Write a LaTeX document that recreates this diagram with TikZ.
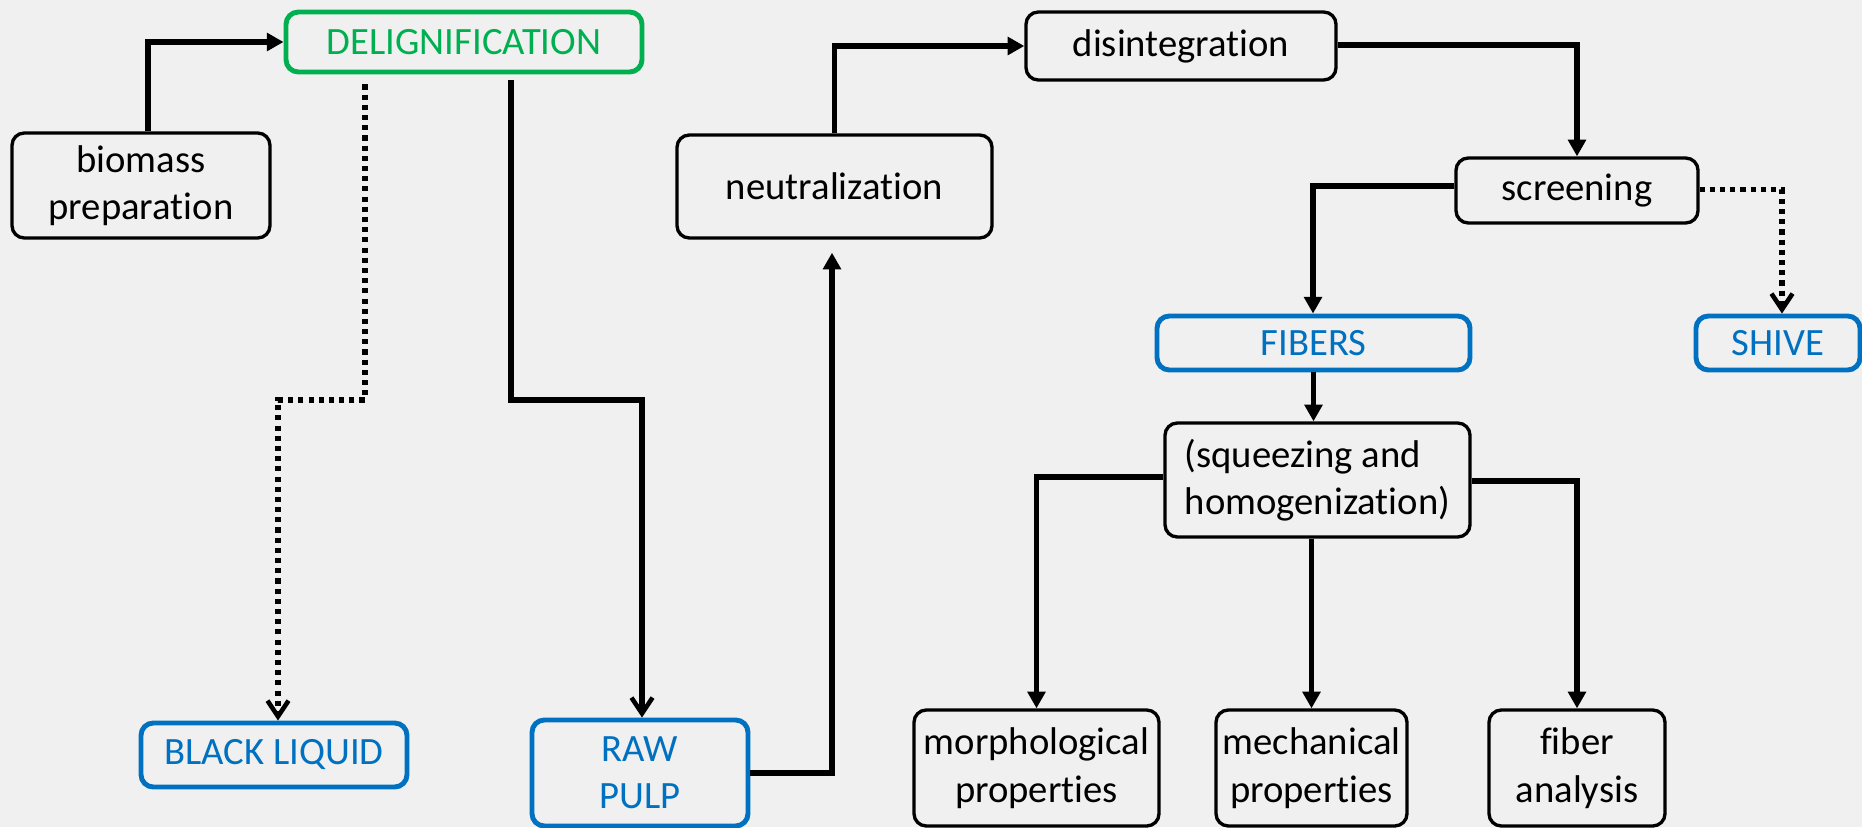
\documentclass[tikz,border=0pt]{standalone}
\usepackage{fontspec}
\setmainfont{Carlito}[Ligatures={NoCommon,NoRare,NoContextual}]
\usetikzlibrary{arrows.meta}
\definecolor{procgreen}{HTML}{00B050}
\definecolor{procblue}{HTML}{0070C0}
\tikzset{
  box/.style={draw=black, line width=1.9pt, rounded corners=7pt, inner sep=0pt, align=center,
    font=\fontsize{22}{27}\selectfont},
  greenbox/.style={box, draw=procgreen, line width=2.8pt, text=procgreen},
  bluebox/.style={box, draw=procblue, line width=2.8pt, text=procblue},
  arr/.style={line width=2.9pt, -{Triangle[length=9.5pt,width=10pt]}},
  barbarr/.style={line width=2.9pt, -{Straight Barb[length=9pt,width=12pt,line width=2.6pt]}},
  dotarr/.style={barbarr, dash pattern=on 2.9pt off 2.9pt}
}
\begin{document}
\begin{tikzpicture}
    \fill [black!6] (0,0) rectangle (37.24,-16.54);
    \useasboundingbox (0,0) rectangle (37.24,-16.54);
    \node (bio) at (2.82,-3.71) [box, minimum width=5.16cm, minimum height=2.10cm]{biomass\\preparation};
    \node (delig) at (9.28,-0.84) [greenbox, minimum width=7.12cm, minimum height=1.20cm]{DELIGNIFICATION};
    \node (black) at (5.48,-15.10) [bluebox, minimum width=5.32cm, minimum height=1.28cm]{BLACK LIQUID};
    \node (raw) at (12.80,-15.46) [bluebox, minimum width=4.32cm, minimum height=2.12cm]{RAW\\PULP};
    \node (neut) at (16.69,-3.73) [box, minimum width=6.30cm, minimum height=2.06cm]{neutralization};
    \node (disint) at (23.62,-0.92) [box, minimum width=6.20cm, minimum height=1.36cm]{disintegration};
    \node (screen) at (31.54,-3.81) [box, minimum width=4.84cm, minimum height=1.30cm]{screening};
    \node (fibers) at (26.27,-6.86) [bluebox, minimum width=6.26cm, minimum height=1.08cm]{FIBERS};
    \node (shive) at (35.56,-6.86) [bluebox, minimum width=3.28cm, minimum height=1.08cm]{SHIVE};
    \node (squeeze) at (26.35,-9.60) [box, minimum width=6.10cm, minimum height=2.28cm, align=left]{(squeezing and\\homogenization)};
    \node (morph) at (20.73,-15.36) [box, minimum width=4.90cm, minimum height=2.32cm]{morphological\\properties};
    \node (mech) at (26.23,-15.36) [box, minimum width=3.82cm, minimum height=2.32cm]{mechanical\\properties};
    \node (fiber) at (31.54,-15.36) [box, minimum width=3.52cm, minimum height=2.32cm]{fiber\\analysis};
    \coordinate (dl) at (7.30,-8.00);
    \coordinate (dr) at (10.22,-8.00);
    \draw [arr] ([xshift=0.14cm]bio.north) |- (delig.west);
    \draw [dotarr] ([yshift=-0.2cm]delig.south -| dl) -- (dl) -| ([xshift=0.08cm]black.north);
    \draw [barbarr] ([yshift=-0.12cm]delig.south -| dr) -- (dr) -| ([xshift=0.04cm]raw.north);
    \draw [arr] (raw.east) -| ([xshift=-0.05cm,yshift=-0.26cm]neut.south);
    \draw [arr] (neut.north) |- (disint.west);
    \draw [arr] ([yshift=0.02cm]disint.east) -| (screen.north);
    \draw [arr] ([yshift=0.09cm]screen.west) -| ([xshift=-0.01cm]fibers.north);
    \draw [dotarr] ([yshift=0.02cm]screen.east) -| ([xshift=0.08cm]shive.north);
    \draw [arr] (fibers.south) -- (fibers.south |- squeeze.north);
    \draw [arr] ([yshift=0.06cm]squeeze.west) -| (morph.north);
    \draw [arr] (squeeze.south -| mech.north) -- (mech.north);
    \draw [arr] ([yshift=-0.02cm]squeeze.east) -| (fiber.north);
\end{tikzpicture}
\end{document}
